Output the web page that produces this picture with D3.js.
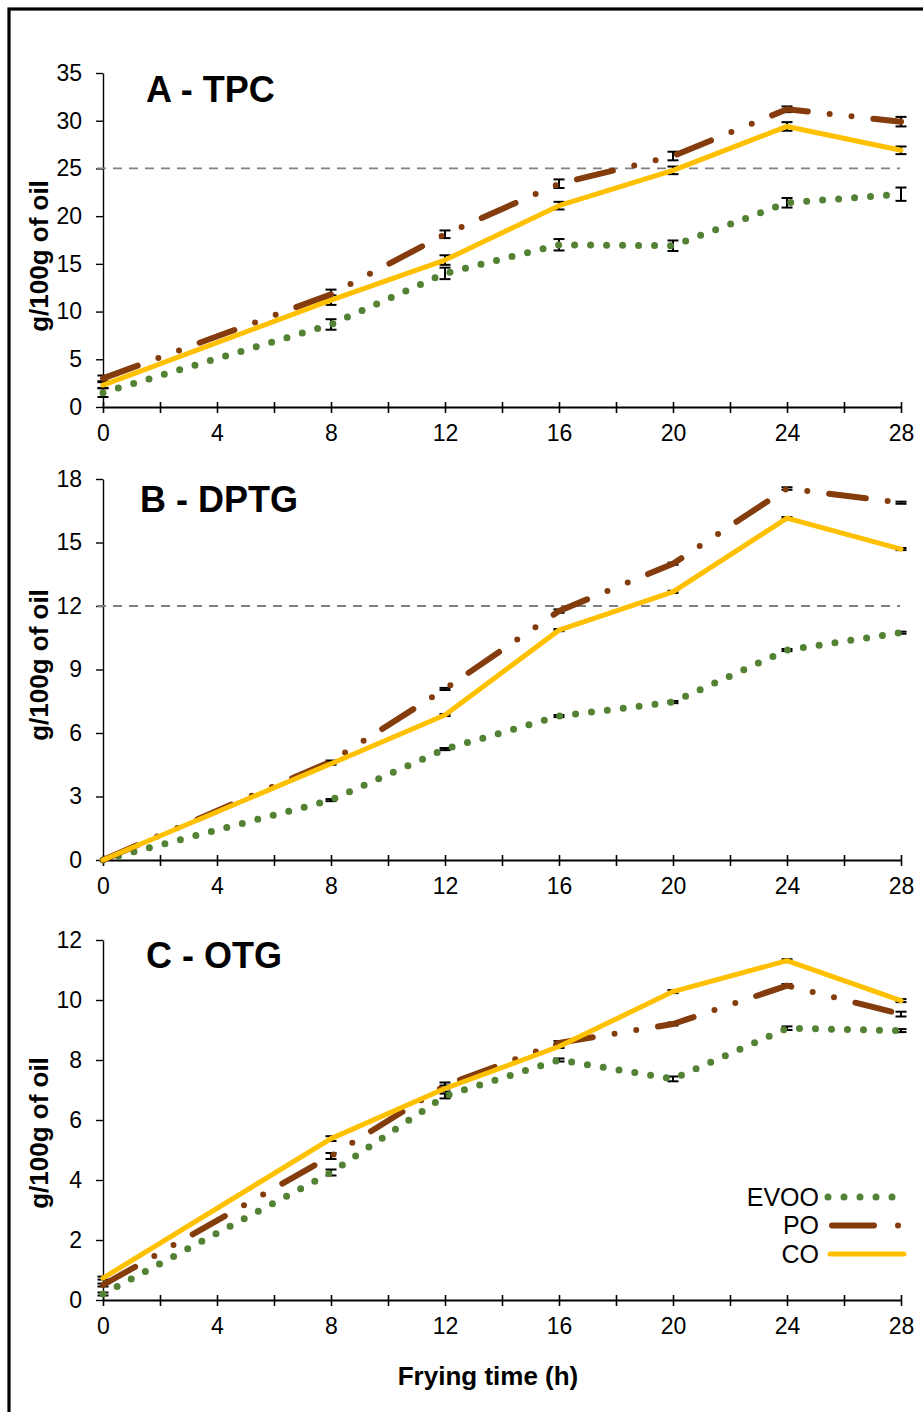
<!DOCTYPE html>
<html>
<head>
<meta charset="utf-8">
<script src="https://cdn.jsdelivr.net/npm/d3@7"></script>
<style>
    body { margin: 0; background: #fff; }
    svg { display: block; font-family: "Liberation Sans", Arial, sans-serif; }
</style>
</head>
<body>
<div id="chart"></div>
<script>

// frying hours where samples were taken
const hours = [0, 8, 12, 16, 20, 24, 28];
const seriesNames = ["EVOO", "PO", "CO"];
const seriesColors = ["#548235", "#843C0C", "#FFC000"];

// A - TPC (g/100g of oil)
const tpcEvoo = [1.5, 8.65, 14.0, 17.0, 16.9, 21.4, 22.3];
const tpcEvooErr = [0.45, 0.55, 0.6, 0.6, 0.55, 0.5, 0.7];
const tpcPo = [3.0, 11.8, 18.1, 23.4, 26.3, 31.2, 29.9];
const tpcPoErr = [0.3, 0.5, 0.4, 0.45, 0.45, 0.3, 0.5];
const tpcCo = [2.3, 11.2, 15.4, 21.1, 24.8, 29.4, 26.9];
const tpcCoErr = [0.3, 0.5, 0.5, 0.4, 0.4, 0.45, 0.4];

// B - DPTG
const dptgEvoo = [0, 2.83, 5.24, 6.8, 7.46, 9.92, 10.74];
const dptgEvooErr = [0, 0.05, 0.05, 0.05, 0.05, 0.05, 0.05];
const dptgPo = [0, 4.65, 8.08, 11.76, 14.0, 17.55, 16.88];
const dptgPoErr = [0, 0.05, 0.05, 0.08, 0.05, 0.06, 0.05];
const dptgCo = [0, 4.55, 6.85, 10.86, 12.67, 16.15, 14.69];
const dptgCoErr = [0, 0.05, 0.05, 0.05, 0.05, 0.05, 0.05];

// C - OTG
const otgEvoo = [0.2, 4.25, 6.8, 8.0, 7.37, 9.06, 8.98];
const otgEvooErr = [0.05, 0.1, 0.08, 0.05, 0.08, 0.06, 0.05];
const otgPo = [0.5, 4.8, 7.15, 8.57, 9.2, 10.48, 9.53];
const otgPoErr = [0.05, 0.1, 0.1, 0.06, 0.05, 0.05, 0.08];
const otgCo = [0.73, 5.38, 7.05, 8.45, 10.28, 11.31, 9.98];
const otgCoErr = [0.05, 0.08, 0.1, 0.05, 0.05, 0.05, 0.05];

// axis ticks
const xTicks = [0, 2, 4, 6, 8, 10, 12, 14, 16, 18, 20, 22, 24, 26, 28];
const xLabelEvery = 4;


/* * * * * * * * * * * * * *
*         PanelVis         *
* * * * * * * * * * * * * */

class PanelVis {

    constructor(svg, opts, series) {
        this.svg = svg;
        this.opts = opts;
        this.series = series;
        this.initVis();
    }

    initVis() {
        let vis = this;
        let o = vis.opts;

        vis.g = vis.svg.append("g").attr("class", "panel");

        vis.x = d3.scaleLinear().domain([0, 28]).range([103, 901]);
        vis.y = d3.scaleLinear().domain([0, o.yMax]).range([o.bottom, o.top]);

        // y axis
        vis.yAxis = d3.axisLeft(vis.y)
            .tickValues(d3.range(0, o.yMax + o.yStep / 2, o.yStep))
            .tickSizeInner(7)
            .tickSizeOuter(0)
            .tickPadding(14);

        vis.g.append("g")
            .attr("class", "y-axis")
            .attr("transform", `translate(103,0)`)
            .call(vis.yAxis)
            .call(g => g.select(".domain").attr("stroke", "#000").attr("stroke-width", 1.4))
            .call(g => g.selectAll(".tick line").attr("stroke", "#000").attr("stroke-width", 1.4))
            .call(g => g.selectAll(".tick text")
                .attr("fill", "#000")
                .style("font-size", "23px")
                .style("font-family", "'Liberation Sans', Arial, sans-serif"));

        // reference dashed line
        if (o.refLine !== null) {
            vis.g.append("line")
                .attr("x1", 97).attr("x2", 900)
                .attr("y1", vis.y(o.refLine)).attr("y2", vis.y(o.refLine))
                .attr("stroke", "#7f7f7f")
                .attr("stroke-width", 1.8)
                .attr("stroke-dasharray", "9,7");
        }

        // x axis
        vis.xAxis = d3.axisBottom(vis.x)
            .tickValues(xTicks)
            .tickFormat(d => d % xLabelEvery === 0 ? d : "")
            .tickSizeInner(6)
            .tickSizeOuter(0)
            .tickPadding(12);

        vis.g.append("g")
            .attr("class", "x-axis")
            .attr("transform", `translate(0,${o.bottom})`)
            .call(vis.xAxis)
            .call(g => g.select(".domain").attr("stroke", "#000").attr("stroke-width", 2.2))
            .call(g => g.selectAll(".tick line")
                .attr("stroke", "#000").attr("stroke-width", 1.6)
                .attr("y1", -5).attr("y2", 6))
            .call(g => g.selectAll(".tick text")
                .attr("fill", "#000")
                .style("font-size", "23px")
                .style("font-family", "'Liberation Sans', Arial, sans-serif"));

        // panel title
        vis.g.append("text")
            .attr("x", o.titleX)
            .attr("y", o.titleY)
            .style("font-size", "36px")
            .style("font-weight", "bold")
            .text(o.title);

        // y axis title
        vis.g.append("text")
            .attr("transform", `translate(48,${o.labelY}) rotate(-90)`)
            .attr("text-anchor", "middle")
            .style("font-size", "26px")
            .style("font-weight", "bold")
            .text("g/100g of oil");

        vis.updateVis();
    }

    updateVis() {
        let vis = this;

        vis.line = d3.line()
            .x(d => vis.x(d.h))
            .y(d => vis.y(d.v));

        // error bars go under the lines
        let bars = vis.g.append("g").attr("class", "error-bars");
        vis.series.forEach(s => {
            s.values.forEach((v, i) => {
                let e = s.err[i];
                if (!e) return;
                let cx = vis.x(hours[i]);
                let y0 = vis.y(v - e), y1 = vis.y(v + e);
                bars.append("line")
                    .attr("x1", cx).attr("x2", cx).attr("y1", y0).attr("y2", y1)
                    .attr("stroke", "#000").attr("stroke-width", 2);
                [y0, y1].forEach(yy => {
                    bars.append("line")
                        .attr("x1", cx - 5.5).attr("x2", cx + 5.5)
                        .attr("y1", yy).attr("y2", yy)
                        .attr("stroke", "#000").attr("stroke-width", 2);
                });
            });
        });

        vis.series.forEach(s => {
            let pts = s.values.map((v, i) => ({h: hours[i], v: v}));
            vis.g.append("path")
                .datum(pts)
                .attr("class", "series " + s.name)
                .attr("d", vis.line)
                .attr("fill", "none")
                .attr("stroke", s.color)
                .attr("stroke-width", s.width)
                .attr("stroke-linecap", "round")
                .attr("stroke-linejoin", "round")
                .attr("stroke-dasharray", s.dash);
        });
    }
}

// line styles per series (EVOO dotted, PO long dash-dot-dot, CO solid)
const styles = {
    EVOO: {width: 7, dash: "0,16"},
    PO: {width: 6, dash: "37,22,0,22,0,22"},
    CO: {width: 5, dash: null}
};

function makeSeries(values, errs) {
    return seriesNames.map((n, i) => ({
        name: n,
        color: seriesColors[i],
        values: values[i],
        err: errs[i],
        width: styles[n].width,
        dash: styles[n].dash
    }));
}

let svg = d3.select("#chart").append("svg")
    .attr("width", 923)
    .attr("height", 1412);

svg.append("rect")
    .attr("width", 923).attr("height", 1412)
    .attr("fill", "#fff");

// outer frame
svg.append("rect")
    .attr("x", 9).attr("y", 9)
    .attr("width", 1000).attr("height", 1500)
    .attr("fill", "none")
    .attr("stroke", "#000")
    .attr("stroke-width", 3.2);

new PanelVis(svg, {
    title: "A - TPC", titleX: 146, titleY: 102,
    yMax: 35, yStep: 5, top: 73, bottom: 407, refLine: 25, labelY: 256
}, makeSeries([tpcEvoo, tpcPo, tpcCo], [tpcEvooErr, tpcPoErr, tpcCoErr]));

new PanelVis(svg, {
    title: "B - DPTG", titleX: 140, titleY: 512,
    yMax: 18, yStep: 3, top: 479, bottom: 860, refLine: 12, labelY: 665
}, makeSeries([dptgEvoo, dptgPo, dptgCo], [dptgEvooErr, dptgPoErr, dptgCoErr]));

new PanelVis(svg, {
    title: "C - OTG", titleX: 146, titleY: 968,
    yMax: 12, yStep: 2, top: 940, bottom: 1300, refLine: null, labelY: 1133
}, makeSeries([otgEvoo, otgPo, otgCo], [otgEvooErr, otgPoErr, otgCoErr]));

// x axis title
svg.append("text")
    .attr("x", 488)
    .attr("y", 1385)
    .attr("text-anchor", "middle")
    .style("font-size", "26px")
    .style("font-weight", "bold")
    .text("Frying time (h)");

// legend (bottom right of panel C)
let legend = svg.append("g").attr("class", "legend");
let legendDash = {EVOO: "0,16", PO: "42,24,0,60", CO: null};
let legendX = {EVOO: [828, 894], PO: [832, 899], CO: [830, 904]};
seriesNames.forEach((n, i) => {
    let yy = 1197 + i * 28.5;
    legend.append("text")
        .attr("x", 819).attr("y", yy)
        .attr("dy", "0.35em")
        .attr("text-anchor", "end")
        .style("font-size", "25px")
        .text(n);
    legend.append("line")
        .attr("x1", legendX[n][0]).attr("x2", legendX[n][1])
        .attr("y1", yy).attr("y2", yy)
        .attr("stroke", seriesColors[i])
        .attr("stroke-width", styles[n].width)
        .attr("stroke-linecap", "round")
        .attr("stroke-dasharray", legendDash[n]);
});

</script>
</body>
</html>
